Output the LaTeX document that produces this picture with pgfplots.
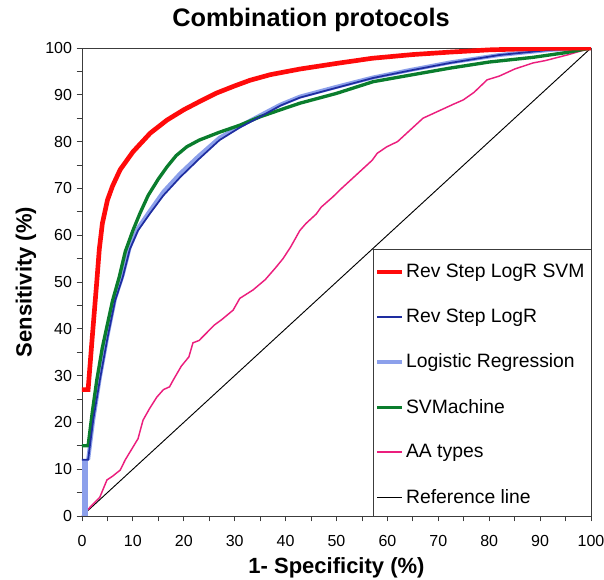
\documentclass[border=0pt]{standalone}
\usepackage{fontspec}
\setmainfont{Liberation Sans}
\usepackage{pgfplots}
\pgfplotsset{compat=1.18}

\definecolor{rocred}{RGB}{255,10,10}
\definecolor{rocnavy}{RGB}{30,45,160}
\definecolor{roclight}{RGB}{140,160,235}
\definecolor{rocgreen}{RGB}{10,125,45}
\definecolor{rocpink}{RGB}{235,30,125}
\definecolor{axgray}{RGB}{60,60,60}

\begin{document}
\begin{tikzpicture}
\useasboundingbox (-61.5pt,-48pt) rectangle (391.5pt,387pt);
\begin{axis}[
  scale only axis, width=381.75pt, height=351pt,
  xmin=0, xmax=100, ymin=0, ymax=100,
  xtick={0,10,...,100}, ytick={0,10,...,100},
  minor tick num=1,
  tick align=outside, tick pos=left,
  major tick length=4pt, minor tick length=4pt,
  axis line style={line width=0.7pt, axgray},
  every tick/.style={axgray, line width=0.6pt},
  tick label style={font=\fontsize{12}{14}\selectfont},
  xticklabel style={yshift=-7pt},
  /pgf/number format/assume math mode=true,
  title={Combination protocols},
  title style={font=\fontsize{19}{22}\selectfont\bfseries, at={(0.45,1)}, anchor=south, yshift=2.5pt},
  xlabel={1- Specificity (\%)}, ylabel={Sensitivity (\%)},
  label style={font=\fontsize{16.5}{20}\selectfont\bfseries},
  xlabel style={yshift=-1pt},
  legend style={at={(axis cs:57.2,57)}, anchor=north west, draw=none, fill=none,
    font=\fontsize{14.5}{16}\selectfont, row sep=18pt, inner xsep=1pt, inner ysep=9pt,
    nodes={inner xsep=1pt}},
  legend cell align=left,
  legend image code/.code={\draw[#1] (0pt,0pt) -- (19pt,0pt);},
]
% reference line
\addplot[black, line width=0.7pt, forget plot] coordinates {(0,0) (100,100)};
% AA types
\addplot[rocpink, line width=1.1pt, forget plot] coordinates {
  (0,0) (1.6,1.9) (3.5,4) (4.9,7.7) (6,8.5) (7.5,9.8) (8.5,12) (10,14.7)
  (11,16.5) (12,20.5) (13.3,23) (14.7,25.4) (16,27) (17.2,27.6) (17.9,29)
  (19.5,32) (21,34) (21.8,37) (23,37.5) (25,39.7) (26,40.8) (27.5,42)
  (29.7,44) (31,46.5) (33.6,48.3) (36,50.5) (38,53) (39.5,55) (41,57.5)
  (42.8,61) (44,62.5) (46,64.5) (47,66) (49.3,68.2) (51,70) (53,72)
  (55,74) (57,76) (58,77.5) (59.9,78.9) (62,80) (64,82) (66,84) (67,85)
  (69,86) (71,87) (73,88) (74.9,88.9) (77,90.5) (79.6,93.2) (82,94)
  (85,95.5) (88.6,96.8) (91,97.3) (95.3,98.5) (100,100)};
% Logistic Regression
\addplot[roclight, fill=roclight, draw=none, forget plot] coordinates {(0,12) (1.2,12)} \closedcycle;
\addplot[roclight, line width=3pt, forget plot] coordinates {
  (1.2,12) (2.2,20.5) (3.5,29.5) (5,38.5) (6.5,46.5) (8,51.5) (9.4,57.5)
  (11,61.5) (13.4,65.3) (16,69.3) (19.3,73.2) (23,77) (27,80.8) (31,83.3)
  (35,85.6) (39,87.9) (42.8,89.6) (50,91.7) (57.2,93.7) (65,95.4)
  (72.3,96.9) (82,98.5) (92,99.6) (100,100)};
% SVMachine
\addplot[rocgreen, line width=2.5pt, forget plot] coordinates {
  (0,15) (1.2,15) (2,22) (2.9,29) (4,36) (5,41) (6,46) (7.3,51) (8.5,56.5)
  (10,61) (11.4,64.7) (13,68.5) (15,72) (16.7,74.6) (18.5,77) (20.6,78.9)
  (23,80.3) (27,82) (31,83.5) (35,85.3) (39,86.8) (42.8,88.2) (50,90.3)
  (57.2,92.8) (65,94.3) (72.3,95.7) (80,97) (88.6,98) (95,99) (100,100)};
% Rev Step LogR
\addplot[rocnavy, line width=1.3pt, forget plot] coordinates {
  (0,12) (1.2,12) (2.2,20.5) (3.5,29) (5,38) (6.5,46) (8,51) (9.4,57)
  (11,61) (13.4,64.7) (16,68.5) (19.3,72.4) (23,76.3) (27,80.3) (31,83)
  (35,85.3) (39,87.7) (42.8,89.4) (50,91.5) (57.2,93.6) (65,95.3)
  (72.3,96.8) (82,98.5) (92,99.6) (100,100)};
% Rev Step LogR SVM
\addplot[rocred, line width=3.5pt, forget plot] coordinates {
  (0,27) (1.2,27) (2,38) (2.9,50) (3.4,57) (4,62.5) (5,67.5) (6,70.5)
  (7.5,74) (10,77.8) (13.4,81.8) (16.7,84.6) (20,86.8) (23,88.5) (26.5,90.4)
  (30,91.9) (33,93.1) (37,94.3) (42.8,95.5) (50,96.7) (57,97.8) (65,98.6)
  (72,99.1) (80,99.6) (90,99.9) (100,100)};
% legend frame
\draw[axgray, line width=0.7pt, fill=white] (axis cs:57.2,0) rectangle (axis cs:100,57);
\addlegendimage{color=rocred, line width=3.5pt}
\addlegendentry{Rev Step LogR SVM}
\addlegendimage{color=rocnavy, line width=1.5pt}
\addlegendentry{Rev Step LogR}
\addlegendimage{color=roclight, line width=3pt}
\addlegendentry{Logistic Regression}
\addlegendimage{color=rocgreen, line width=2.5pt}
\addlegendentry{SVMachine}
\addlegendimage{color=rocpink, line width=1.4pt}
\addlegendentry{AA types}
\addlegendimage{color=black, line width=0.6pt}
\addlegendentry{Reference line}
\end{axis}
\end{tikzpicture}
\end{document}
